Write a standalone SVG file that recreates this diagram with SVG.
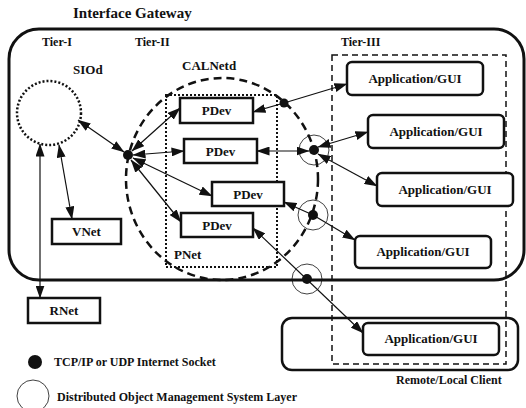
<svg xmlns="http://www.w3.org/2000/svg" width="526" height="408" viewBox="0 0 526 408" font-family="'Liberation Serif', 'DejaVu Serif', serif">
  <style>
    text { font-family: "Liberation Serif", "DejaVu Serif", serif; font-weight: bold; fill: #111; }
    .t12 { font-size: 12px; }
    .t13 { font-size: 13px; }
    .t15 { font-size: 15px; }
    .mid { text-anchor: middle; }
    .box { fill: #fff; stroke: #111; stroke-width: 2.5; }
    .app { fill: #fff; stroke: #111; stroke-width: 2.5; }
    .frame { fill: none; stroke: #111; stroke-width: 3; }
    .dotted { fill: none; stroke: #111; stroke-width: 2.5; stroke-dasharray: 2 2; }
    .dashed { fill: none; stroke: #111; stroke-width: 2.5; stroke-dasharray: 8 5; }
    .tier3 { fill: none; stroke: #111; stroke-width: 1.5; stroke-dasharray: 6 4; }
    .ring { fill: none; stroke: #111; stroke-width: 0.8; }
    .sock { fill: #111; }
    .link { fill: none; stroke: #111; stroke-width: 1.2; }
  </style>
  <defs>
    <marker id="arrow" viewBox="0 0 13 9" refX="12.5" refY="4.5" markerWidth="13" markerHeight="9" markerUnits="userSpaceOnUse" orient="auto-start-reverse">
      <path d="M0,0 L13,4.5 L0,9 Z" fill="#111"/>
    </marker>
  </defs>

  <!-- gateway frame -->
  <g id="gateway">
    <rect class="frame" x="9" y="29" width="515" height="251" rx="30"/>
    <text class="t15" x="73" y="18">Interface Gateway</text>
    <text class="t12" x="42" y="46">Tier-I</text>
    <text class="t12" x="135" y="46">Tier-II</text>
    <text class="t12" x="341" y="46">Tier-III</text>
  </g>

  <!-- remote / local client frame -->
  <g id="client">
    <rect class="app" x="282" y="318" width="236" height="52" rx="10"/>
    <text class="t12" x="396" y="384">Remote/Local Client</text>
  </g>

  <!-- tier III region -->
  <g id="tier3">
    <rect class="tier3" x="332" y="55" width="174" height="309"/>
  </g>

  <!-- SIOd daemon -->
  <g id="siod">
    <circle class="dotted" cx="49" cy="113" r="32"/>
    <text class="t13" x="73" y="74">SIOd</text>
  </g>

  <!-- CALNetd daemon and PNet -->
  <g id="calnetd">
    <ellipse class="dashed" cx="222" cy="179" rx="96" ry="101"/>
    <text class="t13" x="182" y="70">CALNetd</text>
  </g>
  <g id="pnet">
    <rect class="dotted" x="166" y="95" width="111" height="172" style="stroke-width:2"/>
    <text class="t13" x="174" y="259">PNet</text>
  </g>

  <g id="pdev1"><rect class="box" x="180" y="98" width="73" height="25"/><text class="t13 mid" x="216.5" y="115">PDev</text></g>
  <g id="pdev2"><rect class="box" x="184" y="139" width="73" height="24"/><text class="t13 mid" x="220.5" y="156">PDev</text></g>
  <g id="pdev3"><rect class="box" x="212" y="182" width="72" height="24"/><text class="t13 mid" x="248" y="199">PDev</text></g>
  <g id="pdev4"><rect class="box" x="181" y="213" width="72" height="24"/><text class="t13 mid" x="217" y="230">PDev</text></g>

  <g id="vnet"><rect class="box" x="52" y="219" width="69" height="25"/><text class="t13 mid" x="86.5" y="236">VNet</text></g>
  <g id="rnet"><rect class="box" x="28" y="298" width="72" height="25"/><text class="t13 mid" x="64" y="315">RNet</text></g>

  <g id="app1"><rect class="app" x="347" y="62" width="136" height="33" rx="5"/><text class="t13 mid" x="415" y="83">Application/GUI</text></g>
  <g id="app2"><rect class="app" x="368" y="115" width="136" height="33" rx="5"/><text class="t13 mid" x="436" y="136">Application/GUI</text></g>
  <g id="app3"><rect class="app" x="377" y="173" width="136" height="33" rx="5"/><text class="t13 mid" x="445" y="194">Application/GUI</text></g>
  <g id="app4"><rect class="app" x="355" y="236" width="136" height="32" rx="5"/><text class="t13 mid" x="423" y="256">Application/GUI</text></g>
  <g id="app5"><rect class="app" x="363" y="323" width="136" height="32" rx="5"/><text class="t13 mid" x="431" y="343">Application/GUI</text></g>

  <!-- connectors -->
  <g id="connectors">
    <line class="link" x1="78" y1="120" x2="124" y2="152" marker-start="url(#arrow)" marker-end="url(#arrow)"/>
    <line class="link" x1="59" y1="145" x2="72" y2="219" marker-start="url(#arrow)" marker-end="url(#arrow)"/>
    <line class="link" x1="40" y1="144" x2="40" y2="298" marker-start="url(#arrow)" marker-end="url(#arrow)"/>
    <line class="link" x1="132" y1="151" x2="180" y2="108" marker-start="url(#arrow)" marker-end="url(#arrow)"/>
    <line class="link" x1="133" y1="155" x2="184" y2="151" marker-start="url(#arrow)" marker-end="url(#arrow)"/>
    <line class="link" x1="133" y1="158" x2="212" y2="196" marker-start="url(#arrow)" marker-end="url(#arrow)"/>
    <line class="link" x1="131" y1="160" x2="181" y2="222" marker-start="url(#arrow)" marker-end="url(#arrow)"/>
    <line class="link" x1="284" y1="103" x2="253" y2="112" marker-end="url(#arrow)"/>
    <line class="link" x1="284" y1="103" x2="347" y2="84" marker-end="url(#arrow)"/>
    <line class="link" x1="257" y1="151" x2="309" y2="151" marker-start="url(#arrow)" marker-end="url(#arrow)"/>
    <line class="link" x1="318" y1="147" x2="368" y2="132" marker-start="url(#arrow)" marker-end="url(#arrow)"/>
    <line class="link" x1="318" y1="154" x2="377" y2="186" marker-start="url(#arrow)" marker-end="url(#arrow)"/>
    <line class="link" x1="313" y1="215" x2="284" y2="202" marker-end="url(#arrow)"/>
    <line class="link" x1="313" y1="215" x2="355" y2="240" marker-end="url(#arrow)"/>
    <line class="link" x1="253" y1="228" x2="363" y2="333" marker-start="url(#arrow)" marker-end="url(#arrow)"/>
  </g>

  <!-- sockets and object-management layers -->
  <g id="sockets">
    <circle class="sock" cx="128" cy="155" r="5"/>
    <circle class="sock" cx="284" cy="103" r="4.5"/>
    <circle class="ring" cx="314" cy="150" r="15"/>
    <circle class="sock" cx="314" cy="150" r="5"/>
    <circle class="ring" cx="313" cy="215" r="15"/>
    <circle class="sock" cx="313" cy="215" r="5"/>
    <circle class="ring" cx="307" cy="279" r="15"/>
    <circle class="sock" cx="307" cy="279" r="5"/>
  </g>

  <!-- legend -->
  <g id="legend">
    <circle class="sock" cx="35" cy="362" r="7"/>
    <text class="t12" x="54" y="366">TCP/IP or UDP Internet Socket</text>
    <circle class="ring" cx="33" cy="396" r="16"/>
    <text class="t12" x="57" y="401">Distributed Object Management System Layer</text>
  </g>
</svg>
